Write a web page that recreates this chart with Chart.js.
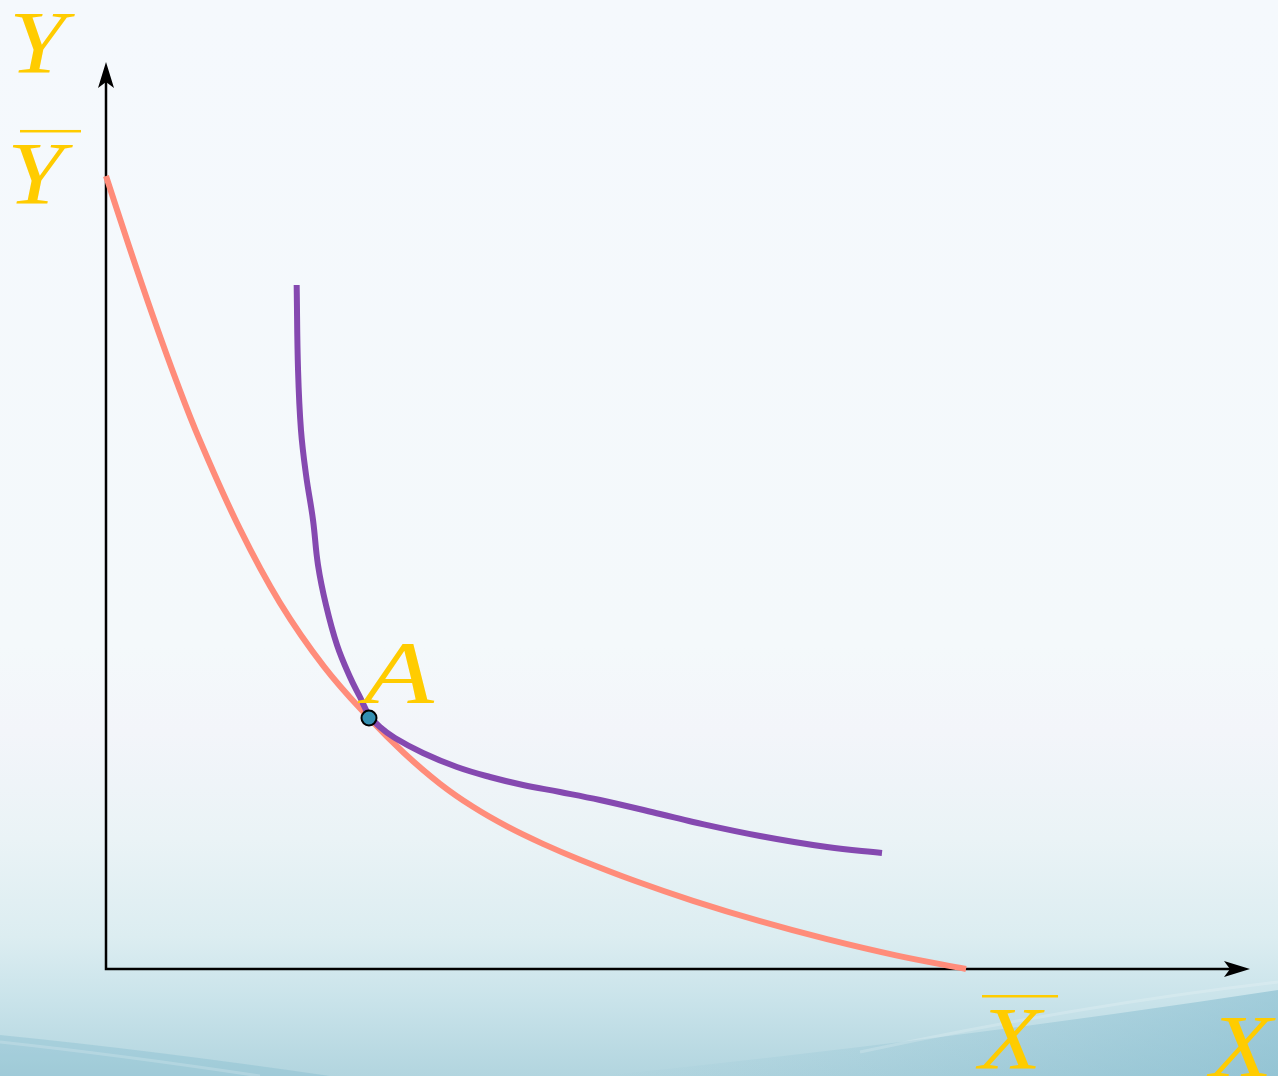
<!DOCTYPE html>
<html>
<head>
<meta charset="utf-8">
<script src="https://cdn.jsdelivr.net/npm/chart.js@4/dist/chart.umd.min.js"></script>
<style>
  html, body { margin: 0; padding: 0; background: #f5f9fd; overflow: hidden; }
  #wrap { width: 1278px; height: 1076px; }
</style>
</head>
<body>
<div id="wrap"><canvas id="cv" width="1278" height="1076"></canvas></div>
<script>
// ---- production possibilities frontier + indifference curve ----

// frontier (X̄ on the x axis, Ȳ on the y axis)
const ppfX = [0, 0.267, 0.547, 0.820, 1.093, 1.558, 2.023, 2.535, 3.058, 3.465, 3.884, 4.267,
  4.663, 5.081, 5.512, 6.163, 6.826, 7.605, 8.384, 9.186, 10];
const ppfY = [10, 9.117, 8.228, 7.410, 6.661, 5.546, 4.617, 3.813, 3.165, 2.724, 2.335, 2.045,
  1.798, 1.578, 1.378, 1.106, 0.860, 0.603, 0.376, 0.172, 0];

// indifference curve touching the frontier at A
const icX = [2.217, 2.233, 2.267, 2.326, 2.407, 2.465, 2.558, 2.686, 2.837, 2.953, 3.058, 3.186,
  3.360, 3.686, 4.081, 4.465, 4.849, 5.279, 5.744, 6.442, 6.826, 7.605, 8.384, 9.023];
const icY = [8.625, 7.554, 6.797, 6.230, 5.662, 5.095, 4.590, 4.086, 3.682, 3.430, 3.203, 3.052,
  2.913, 2.724, 2.547, 2.421, 2.320, 2.232, 2.131, 1.955, 1.854, 1.677, 1.538, 1.463];

// optimum
const pointA = [3.058, 3.165];

// axis extent (arrow tips) and endowment marks
const xMax = 13.302;
const yMax = 11.437;
const xBar = 10;
const yBar = 10;

const GOLD = '#ffcc00';
const LABEL_FONT = 'italic 88px "Liberation Serif", "DejaVu Serif", serif';

const toPts = (xs, ys) => xs.map((x, i) => ({ x, y: ys[i] }));

// soft slide-style backdrop with the teal swoosh along the bottom
const backdrop = {
  id: 'backdrop',
  beforeDraw(chart) {
    const { ctx, width: w, height: h } = chart;
    ctx.save();
    const g = ctx.createLinearGradient(0, 0, 0, h);
    g.addColorStop(0, '#f5f9fd');
    g.addColorStop(0.6, '#f4f9fb');
    g.addColorStop(0.68, '#f3f5fa');
    g.addColorStop(0.78, '#eaf3f6');
    g.addColorStop(0.87, '#dcedf1');
    g.addColorStop(0.93, '#c9e3ea');
    g.addColorStop(1, '#b2d5df');
    ctx.fillStyle = g;
    ctx.fillRect(0, 0, w, h);

    // darker band lower right
    ctx.beginPath();
    ctx.moveTo(600, h);
    ctx.quadraticCurveTo(950, 1040, w, 990);
    ctx.lineTo(w, h);
    ctx.closePath();
    const g2 = ctx.createLinearGradient(600, h, w, 990);
    g2.addColorStop(0, 'rgba(120,180,200,0)');
    g2.addColorStop(1, 'rgba(110,175,198,0.45)');
    ctx.fillStyle = g2;
    ctx.fill();

    // darker corner lower left
    ctx.beginPath();
    ctx.moveTo(0, 1035);
    ctx.quadraticCurveTo(150, 1050, 330, h);
    ctx.lineTo(0, h);
    ctx.closePath();
    ctx.fillStyle = 'rgba(110,175,198,0.28)';
    ctx.fill();

    // light streaks
    ctx.strokeStyle = 'rgba(255,255,255,0.18)';
    ctx.lineWidth = 3;
    ctx.beginPath();
    ctx.moveTo(860, 1052);
    ctx.quadraticCurveTo(1080, 1005, w, 982);
    ctx.stroke();
    ctx.beginPath();
    ctx.moveTo(0, 1042);
    ctx.quadraticCurveTo(120, 1055, 260, h);
    ctx.stroke();
    ctx.restore();
  },
};

function arrowHead(ctx, tx, ty, dx, dy) {
  // dx,dy: unit direction of travel
  const len = 26, half = 8, notch = 20;
  const px = -dy, py = dx;
  ctx.beginPath();
  ctx.moveTo(tx, ty);
  ctx.lineTo(tx - dx * len + px * half, ty - dy * len + py * half);
  ctx.lineTo(tx - dx * notch, ty - dy * notch);
  ctx.lineTo(tx - dx * len - px * half, ty - dy * len - py * half);
  ctx.closePath();
  ctx.fill();
}

// black axes with arrow tips, drawn under the curves
const axesArrows = {
  id: 'axesArrows',
  beforeDatasetsDraw(chart) {
    const { ctx, scales: { x, y } } = chart;
    const x0 = x.getPixelForValue(0), y0 = y.getPixelForValue(0);
    const xt = x.getPixelForValue(xMax), yt = y.getPixelForValue(yMax);
    ctx.save();
    ctx.strokeStyle = '#000';
    ctx.fillStyle = '#000';
    ctx.lineWidth = 2.5;
    ctx.lineCap = 'square';
    ctx.beginPath();
    ctx.moveTo(x0, yt + 15);
    ctx.lineTo(x0, y0);
    ctx.lineTo(xt - 15, y0);
    ctx.stroke();
    arrowHead(ctx, x0, yt, 0, -1);
    arrowHead(ctx, xt, y0, 1, 0);
    ctx.restore();
  },
};

// math-style letter: a touch wider than the plain italic face
function mathText(ctx, s, left, baseline, sx = 1.16) {
  ctx.save();
  ctx.translate(left, baseline);
  ctx.scale(sx, 1);
  ctx.fillText(s, 0, 0);
  ctx.restore();
}

// gold axis names, endowment marks with overbars, and the A label
const axisText = {
  id: 'axisText',
  afterDraw(chart) {
    const { ctx, scales: { x, y } } = chart;
    ctx.save();
    ctx.fillStyle = GOLD;
    ctx.font = LABEL_FONT;
    ctx.textAlign = 'left';
    ctx.textBaseline = 'alphabetic';

    // Y
    mathText(ctx, 'Y', 9, 72);
    // Ȳ
    const yb = y.getPixelForValue(yBar);
    mathText(ctx, 'Y', 7, yb + 27);
    ctx.fillRect(20, yb - 46, 61, 2.5);
    // X̄
    const xb = x.getPixelForValue(xBar);
    mathText(ctx, 'X', xb + 13, 1068);
    ctx.fillRect(xb + 16, 995, 76, 2.5);
    // X
    mathText(ctx, 'X', 1210, 1076);
    // A
    const ax = x.getPixelForValue(pointA[0]), ay = y.getPixelForValue(pointA[1]);
    mathText(ctx, 'A', ax - 5, ay - 16, 1.3);
    ctx.restore();
  },
};

new Chart(document.getElementById('cv').getContext('2d'), {
  type: 'scatter',
  data: {
    datasets: [
      {
        label: 'A',
        data: [{ x: pointA[0], y: pointA[1] }],
        pointRadius: 7.5,
        pointBackgroundColor: '#338fb1',
        pointBorderColor: '#000',
        pointBorderWidth: 2,
        showLine: false,
        order: 0,
      },
      {
        label: 'indifference',
        data: toPts(icX, icY),
        showLine: true,
        borderColor: '#8549b0',
        borderWidth: 6,
        pointRadius: 0,
        tension: 0.4,
        clip: false,
        order: 1,
      },
      {
        label: 'frontier',
        data: toPts(ppfX, ppfY),
        showLine: true,
        borderColor: '#ff8c7a',
        borderWidth: 6,
        pointRadius: 0,
        tension: 0.4,
        clip: false,
        order: 2,
      },
    ],
  },
  plugins: [backdrop, axesArrows, axisText],
  options: {
    responsive: false,
    animation: false,
    events: [],
    layout: { padding: { left: 106, right: 28, top: 62, bottom: 107 } },
    plugins: { legend: { display: false }, tooltip: { enabled: false } },
    scales: {
      x: { type: 'linear', min: 0, max: xMax, display: false },
      y: { type: 'linear', min: 0, max: yMax, display: false },
    },
  },
});
</script>
</body>
</html>
